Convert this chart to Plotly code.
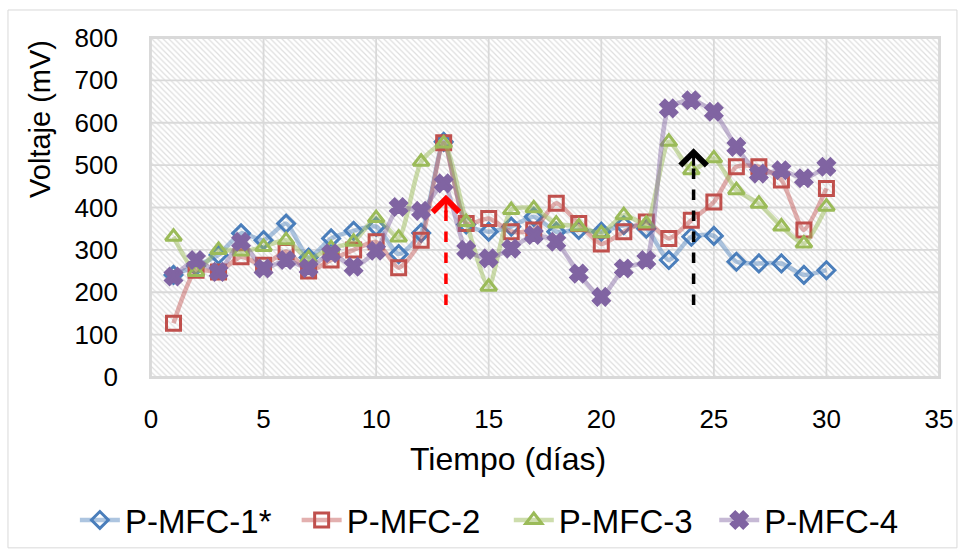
import plotly.graph_objects as go

# Daily voltage readings of four plant microbial fuel cells
dias = list(range(1, 31))
p_mfc_1 = [241, 262, 288, 339, 323, 362, 282, 327, 345, 355, 290, 340, 555, 360, 343,
           355, 378, 343, 347, 343, 358, 350, 276, 331, 333, 272, 268, 268, 241, 252]
p_mfc_2 = [127, 252, 248, 284, 264, 296, 250, 276, 300, 319, 258, 323, 553, 362, 374,
           343, 347, 410, 362, 314, 343, 366, 327, 370, 413, 496, 496, 465, 347, 445]
p_mfc_3 = [331, 248, 300, 296, 307, 323, 280, 304, 319, 375, 329, 508, 551, 366, 213,
           394, 398, 362, 355, 339, 382, 362, 555, 488, 516, 441, 409, 355, 315, 402]
p_mfc_4 = [237, 276, 248, 319, 256, 276, 257, 292, 260, 298, 401, 392, 457, 300, 280,
           303, 335, 319, 244, 189, 256, 276, 634, 653, 626, 543, 480, 488, 469, 496]

series_names = ["P-MFC-1*", "P-MFC-2", "P-MFC-3", "P-MFC-4"]

# Event markers (day, start and end of the dashed arrow in mV)
event_days = [13.1, 24.1]
event_from = [170, 170]
event_to = [430, 540]
event_colors = ["#ff0000", "#000000"]

x_ticks = [0, 5, 10, 15, 20, 25, 30, 35]
y_ticks = [0, 100, 200, 300, 400, 500, 600, 700, 800]
x_range = [0, 35]
y_range = [0, 800]

FONT = "Liberation Sans, Arial, sans-serif"
GRID = "#d9d9d9"

styles = [
    dict(color="#4a7ebb", line="rgba(74,126,187,0.45)", symbol="diamond-open", size=13),
    dict(color="#c0504d", line="rgba(192,80,77,0.45)", symbol="square-open", size=14),
    dict(color="#9bbb59", line="rgba(155,187,89,0.5)", symbol="triangle-up-open", size=14),
    dict(color="#8064a2", line="rgba(128,100,162,0.45)", symbol="x", size=14),
]

# One legend box per series, laid out in a single row along the bottom
legend_ids = ["legend", "legend2", "legend3", "legend4"]
legend_x = [0.078, 0.309, 0.530, 0.744]

fig = go.Figure()

# Hatched plot-area background
fig.add_trace(go.Scatter(
    x=[x_range[0], x_range[1], x_range[1], x_range[0], x_range[0]],
    y=[y_range[0], y_range[0], y_range[1], y_range[1], y_range[0]],
    mode="none", fill="toself", fillcolor="white",
    fillpattern=dict(shape="\\", fgcolor="#bdbdbd", bgcolor="white", size=4, solidity=0.3),
    showlegend=False, hoverinfo="skip",
))

# Gridlines drawn over the hatch
gx, gy = [], []
for t in x_ticks:
    gx += [t, t, None]
    gy += [y_range[0], y_range[1], None]
for t in y_ticks:
    gx += [x_range[0], x_range[1], None]
    gy += [t, t, None]
fig.add_trace(go.Scatter(x=gx, y=gy, mode="lines", line=dict(color=GRID, width=1.8),
                         showlegend=False, hoverinfo="skip"))

for name, vals, st, lg in zip(series_names, [p_mfc_1, p_mfc_2, p_mfc_3, p_mfc_4], styles, legend_ids):
    fig.add_trace(go.Scatter(
        x=dias, y=vals, name=name, mode="lines+markers", legend=lg,
        line=dict(color=st["line"], width=4.5, shape="spline", smoothing=0.6),
        marker=dict(symbol=st["symbol"], size=st["size"], color=st["color"],
                    line=dict(color=st["color"], width=3)),
    ))

# Dashed arrows marking events
for d, y0, y1, c in zip(event_days, event_from, event_to, event_colors):
    fig.add_shape(type="line", x0=d, x1=d, y0=y0, y1=y1 - 10,
                  line=dict(color=c, width=3.5, dash="dash"), layer="above")
    fig.add_annotation(x=d, y=y1, ax=d, ay=y1 - 45, xref="x", yref="y", axref="x", ayref="y",
                       text="", showarrow=True, arrowhead=4, arrowsize=1.7, arrowwidth=3,
                       arrowcolor=c)

# Axis titles
fig.add_annotation(text="Voltaje (mV)", xref="paper", yref="paper", x=-0.141, y=0.761,
                   xanchor="center", yanchor="middle",
                   textangle=-90, showarrow=False, font=dict(family=FONT, size=29, color="#000"))
fig.add_annotation(text="Tiempo (días)", xref="paper", yref="paper", x=0.453, y=-0.242,
                   xanchor="center", yanchor="middle",
                   showarrow=False, font=dict(family=FONT, size=32, color="#000"))

# Outer chart border
fig.add_shape(type="rect", xref="paper", yref="paper", x0=-0.1815, x1=1.0228, y0=-0.504, y1=1.0826,
              line=dict(color=GRID, width=1))

fig.update_xaxes(range=x_range, tickvals=x_ticks, showgrid=False, zeroline=False,
                 showline=True, mirror=True, linecolor=GRID, linewidth=1.8,
                 ticks="", ticklabelstandoff=18,
                 tickfont=dict(family=FONT, size=26, color="#000"))
fig.update_yaxes(range=y_range, tickvals=y_ticks, showgrid=False, zeroline=False,
                 showline=True, mirror=True, linecolor=GRID, linewidth=1.8,
                 ticks="", ticklabelstandoff=26,
                 tickfont=dict(family=FONT, size=26, color="#000"))

legend_style = dict(orientation="h", xref="container", yref="container",
                    xanchor="left", y=0.0545, yanchor="middle",
                    font=dict(family=FONT, size=33, color="#000"), itemwidth=40,
                    bgcolor="rgba(0,0,0,0)")

fig.update_layout(
    width=960, height=550,
    margin=dict(l=151, r=21, t=38, b=173, autoexpand=False),
    paper_bgcolor="white", plot_bgcolor="white",
    showlegend=True,
    hovermode=False,
    **{lg: dict(legend_style, x=lx) for lg, lx in zip(legend_ids, legend_x)},
)

fig.write_html("out.html")
